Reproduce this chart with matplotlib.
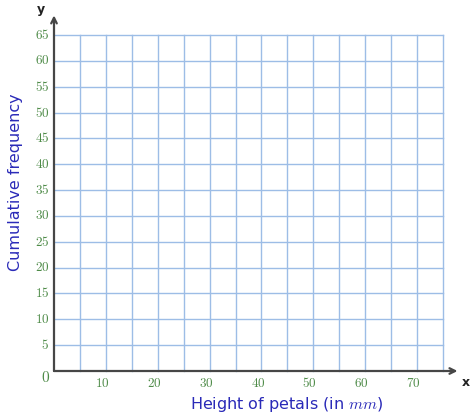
import matplotlib
matplotlib.use("Agg")
import matplotlib.pyplot as plt

plt.rcParams['mathtext.fontset'] = 'cm'

# grille vide pour la courbe des effectifs cumulés
x_max = 75
y_max = 65
grid_step = 5
x_ticks = [10, 20, 30, 40, 50, 60, 70]
y_ticks = [5, 10, 15, 20, 25, 30, 35, 40, 45, 50, 55, 60, 65]
x_label = "Height of petals (in $mm$)"
y_label = "Cumulative frequency"

green = "#4e8b48"
blue = "#2a2ab8"
grid_col = "#9dbde6"
axis_col = "#464646"

fig = plt.figure(figsize=(4.74, 4.18), dpi=100)
ax = fig.add_axes([54 / 474, 1 - 371 / 418, 389 / 474, 336 / 418])
ax.set_xlim(0, x_max)
ax.set_ylim(0, y_max)

for xv in range(grid_step, x_max + 1, grid_step):
    ax.plot([xv, xv], [0, y_max], color=grid_col, lw=1.0, zorder=1, clip_on=False)
for yv in range(grid_step, y_max + 1, grid_step):
    ax.plot([0, x_max], [yv, yv], color=grid_col, lw=1.0, zorder=1, clip_on=False)

for s in ax.spines.values():
    s.set_visible(False)
ax.set_xticks([])
ax.set_yticks([])

# axes avec flèches
ax.annotate("", xy=(77.8, 0), xytext=(0, 0), xycoords="data",
            arrowprops=dict(arrowstyle="->", color=axis_col, lw=1.6, shrinkA=0, shrinkB=0),
            annotation_clip=False, zorder=3)
ax.annotate("", xy=(0, 68.8), xytext=(0, 0), xycoords="data",
            arrowprops=dict(arrowstyle="->", color=axis_col, lw=1.6, shrinkA=0, shrinkB=0),
            annotation_clip=False, zorder=3)

for v in y_ticks:
    ax.text(-0.9, v, r"$\mathbf{%d}$" % v, color=green, fontsize=9.5, ha="right", va="center")
for v in x_ticks:
    ax.text(v - 0.7, -2.4, r"$\mathbf{%d}$" % v, color=green, fontsize=9.5, ha="center", va="center")
ax.text(-1.7, -1.3, "$0$", color=green, fontsize=11, ha="center", va="center")

ax.text(-2.6, 69.9, "y", fontsize=9, fontweight="bold", color="#222222", ha="center", va="center")
ax.text(79.5, -2.3, "x", fontsize=9, fontweight="bold", color="#222222", ha="center", va="center")

fig.text(287 / 474, 1 - 405 / 418, x_label, color=blue, fontsize=11.5, ha="center", va="center")
fig.text(16 / 474, 1 - 182 / 418, y_label, color=blue, fontsize=11.5, ha="center", va="center",
         rotation=90)

fig.savefig("out.png", dpi=100)
